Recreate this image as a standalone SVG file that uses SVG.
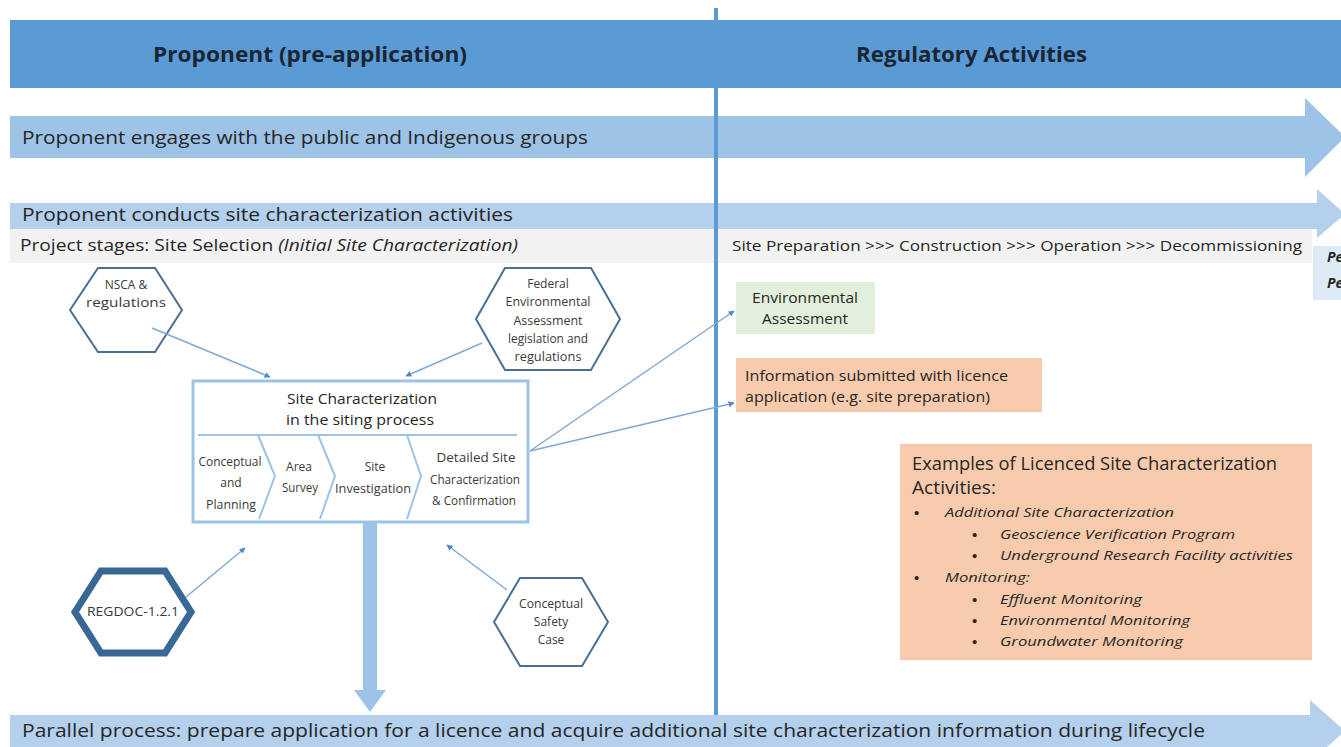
<svg xmlns="http://www.w3.org/2000/svg" width="1341" height="747" viewBox="0 0 1341 747">
  <defs>
    <style>
      .t { font-family: "Open Sans", Lato, "Liberation Sans", sans-serif; fill: #262626; }
      .hdr { font-family: "Open Sans", Lato, "Liberation Sans", sans-serif; font-weight: 700; font-size: 21px; fill: #1a2533; }
      .band { fill: #9dc3e6; }
      .band2 { fill: #b4d0ec; }
      .hex { fill: #ffffff; stroke: #4a6f93; stroke-width: 2; }
      .small { font-size: 12px; fill: #3a3a3a; }
      .conn { stroke: #7fa9d6; stroke-width: 1.5; fill: none; marker-end: url(#ah); }
      .chev { stroke: #9dc3e6; stroke-width: 2; fill: none; }
      .it { font-style: italic; }
      .bul { font-family: "Liberation Sans", sans-serif; font-style: normal; font-size: 15px; fill: #262626; }
    </style>
    <marker id="ah" viewBox="0 0 10 10" refX="9" refY="5" markerWidth="6" markerHeight="6" orient="auto" markerUnits="userSpaceOnUse">
      <path d="M0,0 L10,5 L0,10 z" fill="#4f88c6"/>
    </marker>
  </defs>

  <rect width="1341" height="747" fill="#ffffff"/>

  <!-- header bar -->
  <g id="header">
    <rect x="10" y="20" width="1331" height="68" fill="#5b9bd5"/>
    <text class="hdr" x="153" y="62" textLength="314" lengthAdjust="spacingAndGlyphs">Proponent (pre-application)</text>
    <text class="hdr" x="856" y="62" textLength="231" lengthAdjust="spacingAndGlyphs">Regulatory Activities</text>
  </g>

  <!-- process bands -->
  <g id="band-engage">
    <path class="band" d="M10,116 H1305 V98 L1345,137 L1305,177 V158 H10 z"/>
    <text class="t" x="22" y="144" font-size="19" textLength="566" lengthAdjust="spacingAndGlyphs">Proponent engages with the public and Indigenous groups</text>
  </g>
  <g id="band-conducts">
    <path class="band2" d="M10,203 H1317 V189 L1345,214 L1317,238 V229 H10 z"/>
    <text class="t" x="22" y="221" font-size="18" textLength="491" lengthAdjust="spacingAndGlyphs">Proponent conducts site characterization activities</text>
  </g>
  <g id="stages">
    <rect x="10" y="229" width="1302" height="34" fill="#f2f2f2"/>
    <text class="t" x="20" y="251" font-size="16" textLength="498" lengthAdjust="spacingAndGlyphs">Project stages: Site Selection <tspan class="it">(Initial Site Characterization)</tspan></text>
    <text class="t" x="732" y="251" font-size="14.5" textLength="570" lengthAdjust="spacingAndGlyphs">Site Preparation  &gt;&gt;&gt; Construction &gt;&gt;&gt; Operation &gt;&gt;&gt; Decommissioning</text>
    <rect x="1313" y="246" width="28" height="54" fill="#deebf7"/>
    <text class="t it" x="1327" y="262" font-size="14" font-weight="700">Pe</text>
    <text class="t it" x="1327" y="288" font-size="14" font-weight="700">Pe</text>
  </g>

  <!-- phase divider -->
  <line x1="716" y1="8" x2="716" y2="747" stroke="#5b9bd5" stroke-width="4"/>

  <!-- parallel process band -->
  <g id="band-parallel">
    <path class="band2" d="M10,715 H1310 V700 L1345,731 L1310,762 V747 H10 z"/>
    <text class="t" x="22" y="737" font-size="19" textLength="1183" lengthAdjust="spacingAndGlyphs">Parallel process: prepare application for a licence and acquire additional site characterization information during lifecycle</text>
  </g>

  <!-- flow down from siting process -->
  <g id="down-arrow">
    <path d="M363,522 H377 V690 H386 L370,712 L354,690 H363 z" fill="#9dc3e6"/>
  </g>

  <!-- input hexagons -->
  <g id="hex-nsca">
    <polygon class="hex" points="70,310 98,268 155,268 182,310 155,352 98,352"/>
    <text class="t small" x="126" y="289" text-anchor="middle" font-size="12.5">NSCA &amp;</text>
    <text class="t small" x="126" y="307" text-anchor="middle" textLength="80" lengthAdjust="spacingAndGlyphs">regulations</text>
  </g>
  <g id="hex-federal">
    <polygon class="hex" points="476,319 505,268 591,268 620,319 591,370 505,370"/>
    <text class="t small" x="548" y="288" text-anchor="middle">Federal</text>
    <text class="t small" x="548" y="306" text-anchor="middle" textLength="85" lengthAdjust="spacingAndGlyphs">Environmental</text>
    <text class="t small" x="548" y="325" text-anchor="middle" textLength="69" lengthAdjust="spacingAndGlyphs">Assessment</text>
    <text class="t small" x="548" y="343" text-anchor="middle" textLength="80" lengthAdjust="spacingAndGlyphs">legislation and</text>
    <text class="t small" x="548" y="361" text-anchor="middle" textLength="67" lengthAdjust="spacingAndGlyphs">regulations</text>
  </g>
  <g id="hex-regdoc">
    <polygon points="75,612 101,571 165,571 191,612 165,653 101,653" fill="#ffffff" stroke="#3a6896" stroke-width="7"/>
    <text class="t small" x="133" y="616" text-anchor="middle" font-size="11.5" textLength="92" lengthAdjust="spacingAndGlyphs">REGDOC-1.2.1</text>
  </g>
  <g id="hex-safety">
    <polygon class="hex" points="494,622 520,578 582,578 608,622 582,666 520,666"/>
    <text class="t small" x="551" y="608" text-anchor="middle" textLength="64" lengthAdjust="spacingAndGlyphs">Conceptual</text>
    <text class="t small" x="551" y="626" text-anchor="middle">Safety</text>
    <text class="t small" x="551" y="644" text-anchor="middle">Case</text>
  </g>

  <!-- siting process box -->
  <g id="siting-process">
    <rect x="193" y="381" width="335" height="141" fill="#ffffff" stroke="#9dc3e6" stroke-width="3"/>
    <text class="t" x="362" y="404" text-anchor="middle" font-size="15" textLength="150" lengthAdjust="spacingAndGlyphs">Site Characterization</text>
    <text class="t" x="360" y="425" text-anchor="middle" font-size="15" textLength="148" lengthAdjust="spacingAndGlyphs">in the siting process</text>
    <line class="chev" x1="198" y1="435" x2="517" y2="435"/>
    <polyline class="chev" points="258,435 275,476 259,519"/>
    <polyline class="chev" points="318,435 335,476 320,519"/>
    <polyline class="chev" points="407,435 421,476 407,519"/>
    <text class="t small" x="230" y="466" text-anchor="middle" font-size="12.5" textLength="63" lengthAdjust="spacingAndGlyphs">Conceptual</text>
    <text class="t small" x="231" y="487" text-anchor="middle" font-size="12.5">and</text>
    <text class="t small" x="231" y="509" text-anchor="middle" font-size="12.5" textLength="50" lengthAdjust="spacingAndGlyphs">Planning</text>
    <text class="t small" x="299" y="471" text-anchor="middle" font-size="12.5">Area</text>
    <text class="t small" x="300" y="492" text-anchor="middle" font-size="12.5" textLength="36" lengthAdjust="spacingAndGlyphs">Survey</text>
    <text class="t small" x="375" y="471" text-anchor="middle" font-size="12.5">Site</text>
    <text class="t small" x="373" y="493" text-anchor="middle" font-size="12.5" textLength="76" lengthAdjust="spacingAndGlyphs">Investigation</text>
    <text class="t small" x="476" y="462" text-anchor="middle" font-size="12.5" textLength="79" lengthAdjust="spacingAndGlyphs">Detailed Site</text>
    <text class="t small" x="475" y="484" text-anchor="middle" font-size="12.5" textLength="90" lengthAdjust="spacingAndGlyphs">Characterization</text>
    <text class="t small" x="474" y="505" text-anchor="middle" font-size="12.5" textLength="84" lengthAdjust="spacingAndGlyphs">&amp; Confirmation</text>
  </g>

  <!-- regulatory outputs -->
  <g id="env-assessment">
    <rect x="736" y="282" width="139" height="52" fill="#e2efda"/>
    <text class="t" x="805" y="303" text-anchor="middle" font-size="14.5" textLength="106" lengthAdjust="spacingAndGlyphs">Environmental</text>
    <text class="t" x="805" y="324" text-anchor="middle" font-size="14.5" textLength="86" lengthAdjust="spacingAndGlyphs">Assessment</text>
  </g>
  <g id="licence-info">
    <rect x="736" y="358" width="306" height="54" fill="#f8cbad"/>
    <text class="t" x="745" y="381" font-size="14" textLength="263" lengthAdjust="spacingAndGlyphs">Information  submitted with  licence</text>
    <text class="t" x="745" y="402" font-size="14" textLength="245" lengthAdjust="spacingAndGlyphs">application (e.g. site preparation)</text>
  </g>
  <g id="licensed-examples">
    <rect x="900" y="444" width="412" height="216" fill="#f8cbad"/>
    <text class="t" x="912" y="470" font-size="17.5" textLength="365" lengthAdjust="spacingAndGlyphs">Examples of Licenced Site Characterization</text>
    <text class="t" x="912" y="494" font-size="17.5" textLength="84" lengthAdjust="spacingAndGlyphs">Activities:</text>
    <g class="t it" font-size="13.5">
      <text class="bul" x="914" y="518">•</text>
      <text x="945" y="517" textLength="229" lengthAdjust="spacingAndGlyphs">Additional Site Characterization</text>
      <text class="bul" x="972" y="540">•</text>
      <text x="1000" y="539" textLength="235" lengthAdjust="spacingAndGlyphs">Geoscience Verification Program</text>
      <text class="bul" x="972" y="561">•</text>
      <text x="1000" y="560" textLength="293" lengthAdjust="spacingAndGlyphs">Underground  Research Facility activities</text>
      <text class="bul" x="914" y="583">•</text>
      <text x="945" y="582" textLength="85" lengthAdjust="spacingAndGlyphs">Monitoring:</text>
      <text class="bul" x="972" y="605">•</text>
      <text x="1000" y="604" textLength="142" lengthAdjust="spacingAndGlyphs">Effluent Monitoring</text>
      <text class="bul" x="972" y="626">•</text>
      <text x="1000" y="625" textLength="190" lengthAdjust="spacingAndGlyphs">Environmental Monitoring</text>
      <text class="bul" x="972" y="647">•</text>
      <text x="1000" y="646" textLength="183" lengthAdjust="spacingAndGlyphs">Groundwater  Monitoring</text>
    </g>
  </g>

  <!-- connectors -->
  <g id="connectors">
    <line class="conn" x1="152" y1="328" x2="270" y2="377"/>
    <line class="conn" x1="482" y1="343" x2="406" y2="376"/>
    <line class="conn" x1="186" y1="597" x2="245" y2="548"/>
    <line class="conn" x1="507" y1="590" x2="447" y2="545"/>
    <line class="conn" x1="530" y1="451" x2="734" y2="311"/>
    <line class="conn" x1="530" y1="451" x2="734" y2="403"/>
  </g>
</svg>
